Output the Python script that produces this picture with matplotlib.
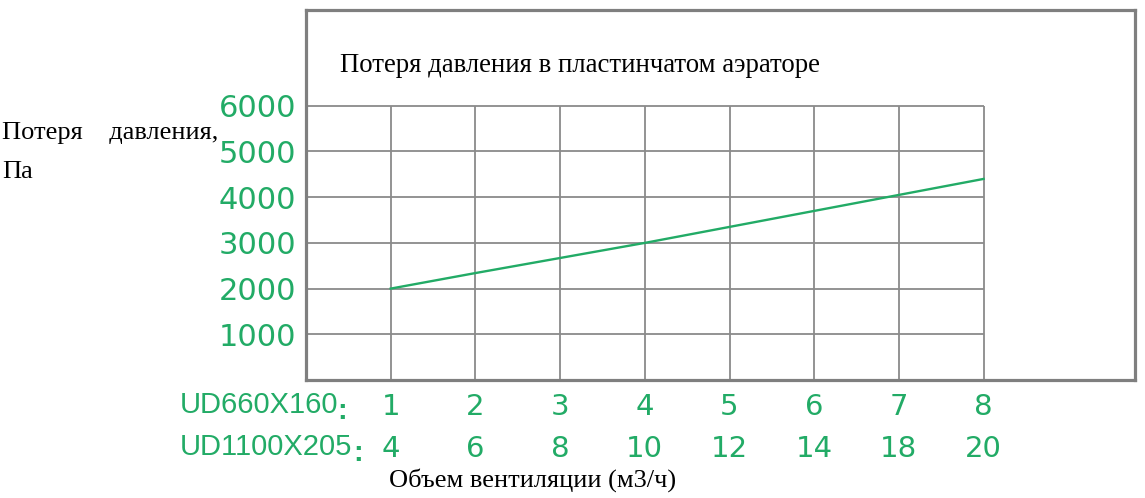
import matplotlib
matplotlib.use("Agg")
import matplotlib.pyplot as plt

# Data
x_positions = [1, 2, 3, 4, 5, 6, 7, 8]
row1_labels = ["1", "2", "3", "4", "5", "6", "7", "8"]
row2_labels = ["4", "6", "8", "10", "12", "14", "18", "20"]
pressure = [2000, 2340, 2670, 3000, 3350, 3700, 4050, 4400]
y_ticks = [1000, 2000, 3000, 4000, 5000, 6000]
grid_y = [1000, 2000, 3000, 4000, 5000, 6000]
grid_x = [1, 2, 3, 4, 5, 6, 7, 8]

title_text = "Потеря давления в пластинчатом аэраторе"
ylabel_line1 = "Потеря    давления,"
ylabel_line2 = "Па"
xlabel_text = "Объем вентиляции (м3/ч)"
row1_name = "UD660X160"
row2_name = "UD1100X205"
sep = ":"

GREEN = "#22ab66"
GRID = "#8a8a8a"
W, H = 1145, 498

fig = plt.figure(figsize=(W / 100, H / 100), dpi=100)
left, right, top, bottom = 306, 1135, 10, 380
ax = fig.add_axes([left / W, 1 - bottom / H, (right - left) / W, (bottom - top) / H])

px_per_x = 84.7
px_per_1000 = 45.7
ax.set_xlim(0, (right - left) / px_per_x)
ax.set_ylim(0, (bottom - top) / px_per_1000 * 1000)

for s in ax.spines.values():
    s.set_color("#7f7f7f")
    s.set_linewidth(2.3)

xmax_grid = max(grid_x)
ymax_grid = max(grid_y)
ax.hlines(grid_y, 0, xmax_grid, color=GRID, lw=1.3, zorder=1)
ax.vlines(grid_x, 0, ymax_grid, color=GRID, lw=1.3, zorder=1)

ax.plot(x_positions, pressure, color=GREEN, lw=1.7, zorder=3)

num_font = ["DejaVu Sans"]
name_font = ["Liberation Sans", "DejaVu Sans"]
ax.set_yticks(y_ticks)
ax.set_yticklabels([str(v) for v in y_ticks], color=GREEN, fontsize=22,
                   family=num_font)
ax.tick_params(axis="y", length=0, pad=7)
for lab in ax.get_yticklabels():
    lab.set_va("center_baseline")

ax.set_xticks(x_positions)
ax.set_xticklabels(row1_labels, color=GREEN, fontsize=21, family=num_font)
ax.tick_params(axis="x", length=0, pad=9)

sec = ax.secondary_xaxis(-42 / (bottom - top))
sec.set_xticks(x_positions)
sec.set_xticklabels(row2_labels, color=GREEN, fontsize=21, family=num_font)
sec.tick_params(axis="x", length=0, pad=9)
sec.spines["bottom"].set_visible(False)

fig.text(180 / W, 1 - 405 / H, row1_name, color=GREEN, fontsize=21,
         family=name_font, ha="left", va="center")
fig.text(342 / W, 1 - 411 / H, sep, color=GREEN, fontsize=21,
         family=name_font, ha="center", va="center", fontweight="bold")
fig.text(180 / W, 1 - 447 / H, row2_name, color=GREEN, fontsize=21,
         family=name_font, ha="left", va="center")
fig.text(358 / W, 1 - 453 / H, sep, color=GREEN, fontsize=21,
         family=name_font, ha="center", va="center", fontweight="bold")

serif = ["Liberation Serif", "DejaVu Serif"]
fig.text(340 / W, 1 - 66 / H, title_text, fontsize=19.3, family=serif,
         ha="left", va="center", color="black")
fig.text(2 / W, 1 - 133 / H, ylabel_line1, fontsize=19, family=serif,
         ha="left", va="center", color="black")
fig.text(2 / W, 1 - 172 / H, ylabel_line2, fontsize=19, family=serif,
         ha="left", va="center", color="black")
fig.text(533 / W, 1 - 480 / H, xlabel_text, fontsize=19, family=serif,
         ha="center", va="center", color="black")

fig.savefig("out.png", dpi=100)
